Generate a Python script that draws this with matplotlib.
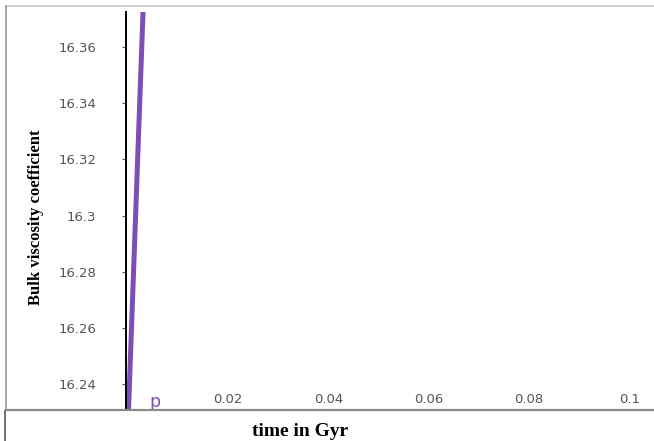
import matplotlib
matplotlib.use("Agg")
import matplotlib.pyplot as plt
from matplotlib.lines import Line2D

# Bulk viscosity coefficient against cosmic time
time_gyr = [0.0, 0.004]
bulk_viscosity = [16.221, 16.417]

x_ticks = [0.02, 0.04, 0.06, 0.08, 0.1]
x_tick_labels = ["0.02", "0.04", "0.06", "0.08", "0.1"]
y_ticks = [16.24, 16.26, 16.28, 16.3, 16.32, 16.34, 16.36]
y_tick_labels = ["16.24", "16.26", "16.28", "16.3", "16.32", "16.34", "16.36"]

W, H = 654, 441
fig = plt.figure(figsize=(W / 100, H / 100), dpi=100)
fig.patch.set_facecolor("white")


def fx(px):
    return px / W


def fy(py):
    return 1 - py / H


ax = fig.add_axes([fx(126), fy(409), fx(652) - fx(126), fy(12) - fy(409)])
line_color = "#7b4fb5"
ax.plot(time_gyr, bulk_viscosity, color=line_color, lw=3.6, solid_capstyle="butt")
ax.set_xlim(-0.0003, 0.1045)
ax.set_ylim(16.2311, 16.3725)

for side in ("top", "right", "bottom"):
    ax.spines[side].set_visible(False)
ax.spines["left"].set_color("black")
ax.spines["left"].set_linewidth(1.4)

label_color = "#555555"
ax.set_yticks(y_ticks)
ax.set_yticklabels(y_tick_labels)
ax.tick_params(axis="y", length=3, width=0.8, color=label_color, pad=18.5,
               labelcolor=label_color, labelsize=9.5)
ax.set_xticks(x_ticks)
ax.set_xticklabels(x_tick_labels)
ax.tick_params(axis="x", length=0, pad=-11.5, labelcolor=label_color, labelsize=9.5)

ax.text(0.0055, 16.2335, "p", color=line_color, fontsize=12.5, ha="center", va="center")

# Outer frame lines
frame = "#9a9a9a"
fig.add_artist(Line2D([fx(6), fx(654)], [fy(6), fy(6)], color="#c8c8c8", lw=1.2))
fig.add_artist(Line2D([fx(6), fx(6)], [fy(6), fy(409)], color=frame, lw=1.2))
fig.add_artist(Line2D([fx(6), fx(654)], [fy(409.5), fy(409.5)], color="#8a8a8a", lw=1.6))
fig.add_artist(Line2D([fx(5), fx(5)], [fy(411), fy(441)], color="#555555", lw=1.2))

fig.text(fx(36), fy(217), "Bulk viscosity coefficient", rotation=90,
         family="Liberation Serif", weight="bold", fontsize=12,
         ha="center", va="center", color="black")
fig.text(fx(300), fy(432), "time in Gyr", family="Liberation Serif",
         weight="bold", fontsize=14, ha="center", va="center", color="black")

fig.savefig("out.png", dpi=100)
